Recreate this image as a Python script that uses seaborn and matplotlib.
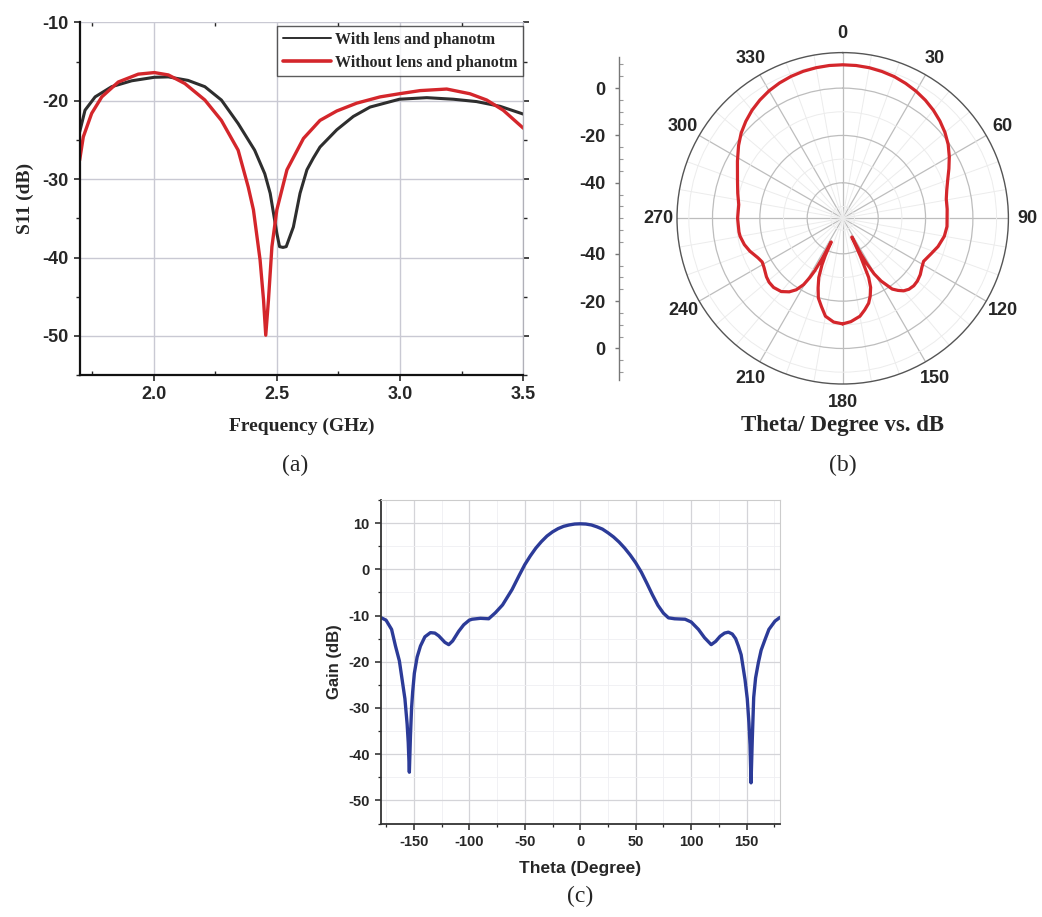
import numpy as np
import pandas as pd
import matplotlib
matplotlib.use("Agg")
import matplotlib.pyplot as plt
from matplotlib.ticker import MultipleLocator, FixedLocator, NullFormatter
import seaborn as sns

# ---------------- data ----------------
freq_with = [1.70, 1.722, 1.763, 1.83, 1.911, 2.003, 2.06, 2.14, 2.208, 2.275, 2.343, 2.41,
             2.451, 2.473, 2.50, 2.511, 2.525, 2.538, 2.567, 2.594, 2.622, 2.648, 2.675,
             2.743, 2.81, 2.878, 2.997, 3.108, 3.216, 3.31, 3.405, 3.50]
s11_with = [-24.0, -21.2, -19.5, -18.2, -17.45, -17.0, -16.95, -17.4, -18.2, -19.9, -22.9, -26.3,
            -29.3, -31.8, -36.9, -38.6, -38.7, -38.6, -36.1, -31.8, -28.8, -27.3, -25.9,
            -23.7, -22.0, -20.8, -19.8, -19.6, -19.8, -20.1, -20.7, -21.7]

freq_without = [1.70, 1.715, 1.749, 1.79, 1.857, 1.938, 2.003, 2.06, 2.127, 2.208, 2.275, 2.343,
                2.384, 2.405, 2.432, 2.446, 2.455, 2.466, 2.48, 2.50, 2.541, 2.608, 2.675,
                2.743, 2.824, 2.919, 2.997, 3.081, 3.189, 3.283, 3.351, 3.418, 3.50]
s11_without = [-27.6, -24.6, -21.6, -19.5, -17.6, -16.6, -16.4, -16.7, -17.8, -19.9, -22.5, -26.3,
               -31.0, -33.9, -40.3, -45.4, -49.9, -45.4, -38.6, -33.9, -28.8, -24.8, -22.5,
               -21.3, -20.3, -19.5, -19.1, -18.7, -18.5, -19.1, -19.9, -21.2, -23.5]

theta_deg = [-180, -175, -170, -166.5, -163, -160.5, -158, -156, -155, -154, -153, -152,
             -151, -149.5, -147, -144, -140, -135, -131, -127.5, -122, -118.5, -115, -109.5,
             -105, -100, -97.5, -90, -82.5, -76.5, -70, -61.5, -55, -50, -45, -40, -35, -30,
             -25, -20, -15, -10, -5, 0, 5, 10, 15, 20, 25, 30, 35, 40, 45, 50, 55, 60, 65,
             70, 75, 79.5, 85, 94.5, 100, 106.5, 112, 118, 122, 126, 130, 133.5, 137, 140,
             142.5, 145, 148.5, 150.5, 152, 153, 153.9, 155, 156.3, 158, 160.5, 163, 166.5,
             170, 175.5, 180]
gain_db = [-10.4, -11.0, -13.0, -16.6, -19.8, -23.9, -28.0, -33.5, -37.5, -43.9, -36.0, -30.0,
           -26.5, -22.5, -19.0, -16.6, -14.6, -13.7, -13.8, -14.4, -15.8, -16.3, -15.5, -13.4,
           -12.0, -11.0, -10.8, -10.6, -10.7, -9.4, -7.7, -4.4, -1.3, 1.0, 2.9, 4.6, 6.0, 7.2,
           8.1, 8.8, 9.3, 9.6, 9.8, 9.85, 9.8, 9.6, 9.2, 8.7, 7.9, 7.0, 5.9, 4.6, 3.1, 1.4,
           -0.6, -3.0, -5.5, -7.8, -9.5, -10.5, -10.7, -10.8, -11.4, -13.0, -14.8, -16.3, -15.6,
           -14.5, -13.8, -13.6, -14.0, -15.0, -16.6, -18.5, -23.9, -28.0, -33.2, -38.0, -46.2,
           -37.0, -27.7, -23.5, -20.2, -17.5, -15.2, -13.0, -11.2, -10.4]

labels_a = ["With lens and phanotm", "Without lens and phanotm"]
polar_ticks = [0, 30, 60, 90, 120, 150, 180, 210, 240, 270, 300, 330]
radial_labels = ["0", "-20", "-40", "-40", "-20", "0"]

# ---------------- style ----------------
sns.set_style("ticks")
plt.rcParams["font.family"] = ["Liberation Sans", "DejaVu Sans"]
plt.rcParams["axes.unicode_minus"] = False
SANS = ["Liberation Sans", "DejaVu Sans"]
SERIF = ["Liberation Serif", "DejaVu Serif"]

W, H = 1042, 917
fig = plt.figure(figsize=(W / 100, H / 100), dpi=100)

def px_axes(left, top, right, bottom, **kw):
    return fig.add_axes([left / W, 1 - bottom / H, (right - left) / W, (bottom - top) / H], **kw)

# ---------------- panel (a) ----------------
axa = px_axes(79.6, 22.4, 523.4, 375.2)
df_w = pd.DataFrame({"f": freq_with, "s": s11_with})
df_wo = pd.DataFrame({"f": freq_without, "s": s11_without})
sns.lineplot(data=df_w, x="f", y="s", ax=axa, color="#2e2e2e", lw=2.2, sort=False,
             label=labels_a[0])
sns.lineplot(data=df_wo, x="f", y="s", ax=axa, color="#d4262b", lw=2.4, sort=False,
             label=labels_a[1])
axa.set_xlim(1.7, 3.5)
axa.set_ylim(-55, -10)
axa.xaxis.set_major_locator(MultipleLocator(0.5))
axa.xaxis.set_minor_locator(MultipleLocator(0.25))
axa.yaxis.set_major_locator(MultipleLocator(10))
axa.yaxis.set_minor_locator(MultipleLocator(5))
axa.xaxis.set_major_formatter(matplotlib.ticker.FormatStrFormatter("%.1f"))
axa.grid(True, which="major", color="#c9c9d3", lw=1.0)
axa.tick_params(which="major", direction="out", length=4, width=1.2, labelsize=13, pad=4)
axa.tick_params(which="minor", direction="out", length=3, width=1.0)
axa.tick_params(axis="y", which="both", right=True, direction="out")
axa.tick_params(axis="x", which="minor", top=True, direction="in")
for lab in axa.get_xticklabels() + axa.get_yticklabels():
    lab.set_fontweight("bold")
for sp in ["left", "bottom"]:
    axa.spines[sp].set_linewidth(1.6)
    axa.spines[sp].set_color("#111111")
axa.spines["right"].set_color("#b0b0b8")
axa.spines["right"].set_linewidth(0.9)
axa.spines["top"].set_visible(False)
axa.set_xlabel("Frequency (GHz)", family=SERIF, fontweight="bold", fontsize=14, labelpad=10)
axa.set_ylabel("S11 (dB)", family=SERIF, fontweight="bold", fontsize=14, labelpad=6)
leg = axa.legend(loc="upper right", bbox_to_anchor=(1.0, 1 - 3.6 / 352.8), borderaxespad=0,
                 prop={"family": SERIF, "weight": "bold", "size": 11.5}, frameon=True,
                 fancybox=False, edgecolor="#333333", handlelength=3.0, borderpad=0.35,
                 labelspacing=0.45, handletextpad=0.3)
leg.get_frame().set_linewidth(1.0)
leg.get_lines()[0].set_linewidth(1.4)
leg.get_lines()[1].set_linewidth(2.6)
fig.text(295 / W, 1 - 465 / H, "(a)", family=SERIF, fontsize=17, ha="center", va="center")

# ---------------- panel (b) ----------------
R = 165.7
cx, cy = 842.7, 218.3
axb = px_axes(cx - R, cy - R, cx + R, cy + R, projection="polar")
th = np.deg2rad(np.array(theta_deg))
df_p = pd.DataFrame({"t": th, "g": gain_db})
sns.lineplot(data=df_p, x="t", y="g", ax=axb, color="#d4262b", lw=2.3, sort=False, zorder=5)
axb.set_theta_zero_location("N")
axb.set_theta_direction(-1)
axb.set_ylim(-55, 15)
axb.set_xlabel("")
axb.set_ylabel("")
axb.set_xticks(np.deg2rad(polar_ticks))
axb.set_xticklabels([str(t) for t in polar_ticks], fontsize=13, fontweight="bold",
                    family=SANS)
axb.xaxis.set_minor_locator(FixedLocator(np.deg2rad(np.arange(0, 360, 10))))
axb.set_yticks([-40, -20, 0])
axb.yaxis.set_minor_locator(FixedLocator([-50, -30, -10, 10]))
axb.set_yticklabels([])
axb.yaxis.set_minor_formatter(NullFormatter())
axb.grid(True, which="major", color="#bdbdbd", lw=0.9)
axb.grid(True, which="minor", color="#ececec", lw=0.7)
axb.tick_params(axis="x", pad=3)
axb.spines["polar"].set_color("#555555")
axb.spines["polar"].set_linewidth(1.0)

# left radial scale (Origin style)
top_px, bot_px = 56.7, 379.9
axr = px_axes(619.3, top_px, 621.0, bot_px)
half = (bot_px - top_px) / 2 / (R / 70.0)
axr.set_ylim(-half, half)
axr.set_xlim(0, 1)
axr.patch.set_alpha(0)
for sp in ["top", "right", "bottom"]:
    axr.spines[sp].set_visible(False)
axr.spines["left"].set_color("#777777")
axr.spines["left"].set_linewidth(1.0)
maj = [55, 35, 15, -15, -35, -55]
axr.yaxis.set_major_locator(FixedLocator(maj))
axr.set_yticklabels(radial_labels)
axr.yaxis.set_minor_locator(FixedLocator([d for d in range(-65, 70, 5) if d not in maj]))
axr.set_xticks([])
axr.tick_params(axis="y", which="major", direction="out", length=3, width=1.0,
                color="#777777", labelsize=13, pad=7)
axr.tick_params(axis="y", which="minor", direction="in", length=3, width=0.8, color="#999999")
for lab in axr.get_yticklabels():
    lab.set_fontweight("bold")
fig.text(cx / W, 1 - 425 / H, "Theta/ Degree vs. dB", family=SERIF, fontweight="bold",
         fontsize=16.5, ha="center", va="center")
fig.text(cx / W, 1 - 465 / H, "(b)", family=SERIF, fontsize=17, ha="center", va="center")

# ---------------- panel (c) ----------------
axc = px_axes(380.5, 500, 780, 823.5)
df_c = pd.DataFrame({"theta": theta_deg, "gain": gain_db})
sns.lineplot(data=df_c, x="theta", y="gain", ax=axc, color="#2c3b98", lw=2.4, sort=False)
axc.set_xlim(-180, 180)
axc.set_ylim(-55, 15)
axc.xaxis.set_major_locator(MultipleLocator(50))
axc.xaxis.set_minor_locator(MultipleLocator(25))
axc.yaxis.set_major_locator(MultipleLocator(10))
axc.yaxis.set_minor_locator(MultipleLocator(5))
axc.grid(True, which="major", color="#d4d4d8", lw=0.9)
axc.grid(True, which="minor", color="#efeff2", lw=0.6)
axc.tick_params(which="major", direction="out", length=4, width=1.1, labelsize=10.5, pad=4)
axc.tick_params(which="minor", direction="out", length=2.5, width=0.9)
for lab in axc.get_xticklabels() + axc.get_yticklabels():
    lab.set_fontweight("bold")
for sp in ["left", "bottom"]:
    axc.spines[sp].set_linewidth(1.3)
    axc.spines[sp].set_color("#333333")
for sp in ["top", "right"]:
    axc.spines[sp].set_color("#cccccc")
    axc.spines[sp].set_linewidth(0.8)
axc.set_xlabel("Theta (Degree)", fontweight="bold", fontsize=12.5, labelpad=9)
axc.set_ylabel("Gain (dB)", fontweight="bold", fontsize=12, labelpad=4)
fig.text(580 / W, 1 - 896 / H, "(c)", family=SERIF, fontsize=17, ha="center", va="center")

fig.savefig("out.png", dpi=100)
